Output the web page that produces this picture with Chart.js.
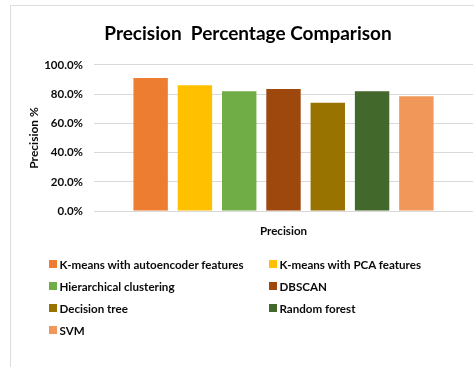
<!DOCTYPE html>
<html>
<head>
<meta charset="utf-8">
<title>Precision Percentage Comparison</title>
<script src="https://cdn.jsdelivr.net/npm/chart.js@4.4.1/dist/chart.umd.min.js"></script>
<style>
  html, body { margin: 0; padding: 0; background: #fff; }
  #wrap { position: relative; width: 474px; height: 367px; overflow: hidden; }
  #frame { position: absolute; left: 10px; top: 5px; width: 500px; height: 400px;
           border: 1px solid #dedede; box-sizing: border-box; }
  #chart { position: absolute; left: 0; top: 0; }
  #legend { position: absolute; left: 0; top: 0; width: 474px; height: 367px;
            font: bold 11.6px Lato, sans-serif; color: #0a0a0a; }
  .item { position: absolute; display: flex; align-items: center; height: 14px; white-space: nowrap; }
  .box { width: 7.5px; height: 7.5px; margin-right: 3px; flex: none; }
</style>
</head>
<body>
<div id="wrap">
  <div id="frame"></div>
  <canvas id="chart" width="474" height="367"></canvas>
  <div id="legend"></div>
</div>
<script>
// Category on the x axis
const categories = ['Precision'];

// Methods compared (one dataset per method)
const methods = [
  'K-means with autoencoder features',
  'K-means with PCA features',
  'Hierarchical clustering',
  'DBSCAN',
  'Decision tree',
  'Random forest',
  'SVM'
];

// Precision in percent for each method
const precision = [91.0, 86.0, 82.0, 83.5, 74.0, 82.0, 78.5];

// Bar fill colours, in method order
const colors = ['#ED7D31', '#FFC000', '#70AD47', '#9E480E', '#997300', '#43682B', '#F1975A'];

// Value-axis tick values
const yTicks = [0, 20, 40, 60, 80, 100];

const datasets = methods.map((name, i) => ({
  label: name,
  data: [precision[i]],
  backgroundColor: colors[i],
  borderWidth: 0,
  categoryPercentage: 0.818,
  barPercentage: 0.777
}));

const chart = new Chart(document.getElementById('chart'), {
  type: 'bar',
  data: { labels: categories, datasets },
  options: {
    responsive: false,
    animation: false,
    devicePixelRatio: 1,
    layout: { padding: { left: 23, right: 1, top: 0, bottom: 116 } },
    plugins: {
      legend: { display: false },
      tooltip: { enabled: false },
      title: {
        display: true,
        text: 'Precision  Percentage Comparison',
        color: '#000',
        font: { family: 'Lato', size: 19, weight: 'bold' },
        padding: { top: 22, bottom: 20 }
      }
    },
    scales: {
      x: {
        grid: { display: false, drawTicks: false },
        border: { display: false },
        ticks: { color: '#0a0a0a', padding: 13, font: { family: 'Lato', size: 11.6, weight: 'bold' } }
      },
      y: {
        min: yTicks[0],
        max: yTicks[yTicks.length - 1],
        afterBuildTicks: (scale) => { scale.ticks = yTicks.map(v => ({ value: v })); },
        afterFit: (scale) => { scale.width = 71; },
        grid: { color: '#d9d9d9', lineWidth: 1, drawTicks: false },
        border: { display: false },
        ticks: {
          color: '#0a0a0a',
          padding: 11,
          font: { family: 'Lato', size: 11.5, weight: 'bold' },
          callback: (v) => Number(v).toFixed(1) + '%'
        },
        title: {
          display: true,
          text: 'Precision %',
          color: '#0a0a0a',
          font: { family: 'Lato', size: 12, weight: 'bold' }
        }
      }
    }
  }
});

// Two-column legend built from the chart's datasets
const legend = document.getElementById('legend');
chart.data.datasets.forEach((ds, i) => {
  const col = i % 2, row = Math.floor(i / 2);
  const item = document.createElement('div');
  item.className = 'item';
  item.style.left = (col === 0 ? 49 : 269) + 'px';
  item.style.top = (257 + row * 22) + 'px';
  const box = document.createElement('span');
  box.className = 'box';
  box.style.background = ds.backgroundColor;
  const txt = document.createElement('span');
  txt.textContent = ds.label;
  item.appendChild(box);
  item.appendChild(txt);
  legend.appendChild(item);
});
</script>
</body>
</html>
